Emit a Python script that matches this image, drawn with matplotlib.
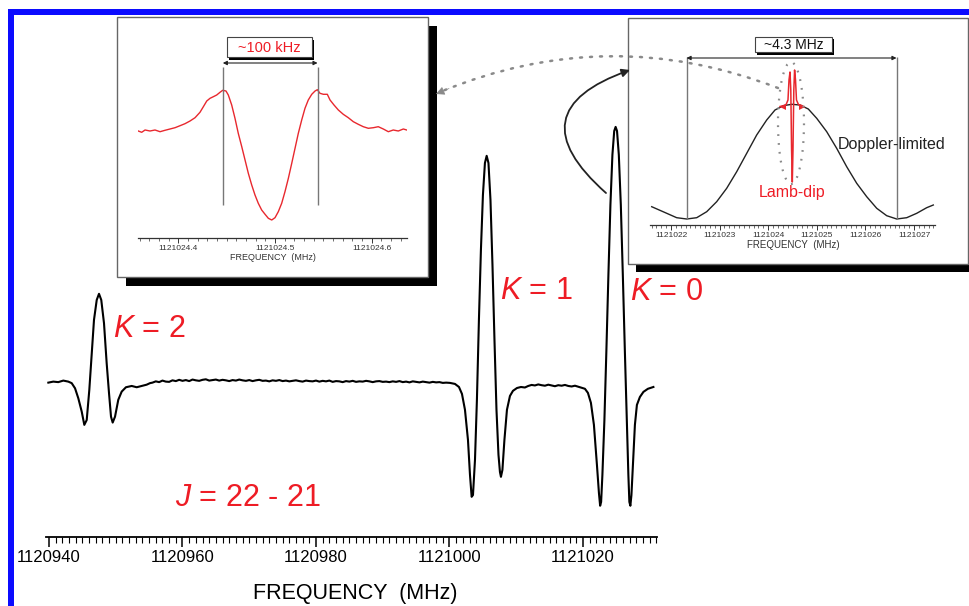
import matplotlib
matplotlib.use("Agg")
import matplotlib.pyplot as plt
import numpy as np
from matplotlib.patches import Rectangle, Ellipse, FancyArrowPatch
from matplotlib.ticker import MultipleLocator

plt.rcParams.update({
    'font.family': ['Liberation Sans', 'DejaVu Sans'],
    'mathtext.fontset': 'custom',
    'mathtext.rm': 'Liberation Sans',
    'mathtext.it': 'Liberation Sans:italic',
})

# ---------------- data: main J = 22 - 21 spectrum (2f lineshape) ----------------
FREQ0 = 1120940.0   # MHz, offsets below are relative to this
k2_off = [-0.10, 0.64, 1.39, 2.14, 2.89, 3.40, 3.90, 4.39, 4.90, 5.29, 5.65, 6.04, 6.40, 6.74, 7.15,
          7.49, 7.83, 8.24, 8.64, 8.99, 9.29, 9.54, 9.89, 10.38, 10.89, 11.53, 12.39, 13.14, 13.89, 14.63, 15.13]
k2_sig = [0.1, 0.5, 0.3, 0.9, 0.5, -0.1, -2.1, -6.0, -11.2, -16.4, -14.5, -2.7, 11.6, 24.6, 32.4,
          34.8, 32.4, 23.3, 7.7, -4.0, -13.2, -15.5, -13.2, -6.6, -3.4, -1.7, -1.2, -1.7, -1.2, -0.7, -0.1]

mid_off = [15.5, 16.0, 16.5, 17.0, 17.5, 18.0, 18.5, 19.0, 19.5, 20.0,
           20.5, 21.0, 21.5, 22.0, 22.5, 23.0, 23.5, 24.0, 24.5, 25.0,
           25.5, 26.0, 26.5, 27.0, 27.5, 28.0, 28.5, 29.0, 29.5, 30.0,
           30.5, 31.0, 31.5, 32.0, 32.5, 33.0, 33.5, 34.0, 34.5, 35.0,
           35.5, 36.0, 36.5, 37.0, 37.5, 38.0, 38.5, 39.0, 39.5, 40.0,
           40.5, 41.0, 41.5, 42.0, 42.5, 43.0, 43.5, 44.0, 44.5, 45.0,
           45.5, 46.0, 46.5, 47.0, 47.5, 48.0, 48.5, 49.0, 49.5, 50.0,
           50.5, 51.0, 51.5, 52.0, 52.5, 53.0, 53.5, 54.0, 54.5, 55.0,
           55.5, 56.0, 56.5, 57.0, 57.5, 58.0, 58.5, 59.0, 59.5]
mid_sig = [0.1, 0.6, 0.3, 0.9, 0.5, 0.4, 1.0, 0.7, 1.2, 0.8,
           1.1, 0.7, 1.3, 1.0, 0.8, 1.2, 1.4, 0.9, 1.1, 1.3,
           0.9, 1.2, 1.0, 0.7, 1.1, 0.9, 1.3, 1.0, 0.8, 1.1,
           0.7, 1.0, 1.2, 0.8, 0.9, 0.6, 1.0, 0.8, 1.1, 0.7,
           0.9, 0.6, 0.8, 1.0, 0.7, 0.5, 0.9, 0.7, 0.6, 0.9,
           0.5, 0.8, 0.6, 0.9, 0.4, 0.7, 0.6, 0.3, 0.7, 0.5,
           0.8, 0.4, 0.6, 0.5, 0.8, 0.6, 0.3, 0.6, 0.7, 0.4,
           0.5, 0.3, 0.6, 0.4, 0.7, 0.3, 0.5, 0.2, 0.6, 0.4,
           0.2, 0.5, 0.3, 0.1, 0.4, 0.2, 0.3, 0.0, 0.1]

k1_off = [60.07, 60.82, 61.42, 61.87, 62.32, 62.77, 63.07, 63.32, 63.52, 63.82, 64.11, 64.41, 64.71, 65.01,
          65.31, 65.57, 65.84, 66.14, 66.44, 66.74, 67.04, 67.34, 67.56, 67.71, 67.93, 68.23, 68.61, 69.06,
          69.51, 70.11, 70.71, 71.30]
k1_sig = [0.0, -0.4, -1.6, -4.3, -10.5, -22.3, -35.9, -44.5, -43.8, -30.1, -6.6, 24.6, 52.0, 73.4,
          85.9, 88.7, 85.9, 71.5, 46.1, 16.8, -10.5, -28.1, -34.8, -36.7, -34.0, -22.3, -10.5, -5.1,
          -3.1, -2.0, -1.6, -1.8]

gap_off = [71.8, 72.3, 72.8, 73.3, 73.8, 74.3, 74.8, 75.3, 75.8, 76.3, 76.8, 77.3, 77.8, 78.3, 78.8, 79.3, 79.8]
gap_sig = [-1.2, -0.8, -1.0, -0.6, -0.9, -1.1, -0.7, -1.0, -1.3, -0.9, -1.1, -0.8, -1.2, -1.4, -1.1, -1.5, -1.9]

k0_off = [80.29, 80.74, 81.19, 81.64, 82.09, 82.39, 82.57, 82.72, 82.91, 83.21, 83.51, 83.81, 84.11,
          84.41, 84.68, 84.89, 85.10, 85.37, 85.67, 85.97, 86.27, 86.57, 86.80, 86.95, 87.10, 87.26,
          87.48, 87.78, 88.08, 88.53, 89.06, 89.73, 90.55]
k0_sig = [-2.3, -3.9, -7.8, -16.4, -32.0, -43.0, -48.0, -46.5, -35.9, -14.5, 12.9, 42.2, 69.5,
          89.1, 98.4, 100.0, 98.4, 89.1, 69.5, 42.2, 12.9, -14.5, -35.9, -46.5, -48.0, -43.8,
          -32.0, -16.4, -8.6, -5.5, -3.5, -2.3, -1.6]

main_tick_freq = [1120940, 1120960, 1120980, 1121000, 1121020]
main_tick_labels = ['1120940', '1120960', '1120980', '1121000', '1121020']
line_labels = ['$K$ = 2', '$K$ = 1', '$K$ = 0']
line_label_freq = [1120949.6, 1121007.6, 1121027.0]
line_label_sig = [18.0, 32.8, 32.4]

# ---------------- data: left inset (Lamb-dip, ~100 kHz) ----------------
LAMB0 = 1121024.0   # MHz, offsets in kHz
lamb_khz = [358.6, 362.1, 365.6, 370.7, 375.9, 381.1, 386.2, 391.4, 396.6, 401.8,
            406.9, 412.1, 417.3, 422.4, 425.9, 429.4, 432.8, 436.2, 439.7, 443.1,
            445.9, 449.3, 451.7, 455.2, 458.6, 462.0, 465.6, 469.0, 472.4, 475.9,
            479.3, 482.7, 486.2, 489.7, 493.1, 496.6, 500.0, 503.4, 506.9, 510.3,
            513.8, 517.3, 520.7, 524.1, 527.6, 531.0, 534.4, 538.0, 541.4, 543.8,
            546.5, 550.0, 554.1, 556.9, 561.0, 565.5, 570.6, 575.8, 581.0, 586.1,
            591.3, 596.5, 601.7, 606.8, 612.0, 617.2, 622.3, 627.5, 632.7, 636.2]
lamb_sig = [0, -1.3, 1, 0, 1, -0.7, 0.7, 2, 3.3, 5.3,
            7.3, 10, 13.3, 18.7, 24.3, 30, 32.7, 34.3, 36, 38.7,
            40.7, 40, 36, 26, 12.7, -2.3, -15.7, -29, -42.3, -54,
            -64, -72.3, -79, -83.3, -87.3, -89, -86.7, -80.7, -72.3, -60.7,
            -47.3, -32.3, -17.3, -2.3, 11, 22.7, 31, 36.7, 40, 41.3,
            37.7, 36.7, 36.7, 31, 26, 21, 16.7, 13.3, 9.3, 6.7,
            4.3, 2.7, 3.3, 4.3, 2, -0.7, 1, 0, 2, 1]
lamb_marker_freq = [1121024.446, 1121024.544]
left_tick_freq = [1121024.4, 1121024.5, 1121024.6]
left_tick_labels = ['1121024.4', '1121024.5', '1121024.6']

# ---------------- data: right inset (Doppler-limited ~4.3 MHz) ----------------
DOP0 = 1121020.0
dop_off = [1.603, 1.912, 2.117, 2.323, 2.529, 2.735, 2.940, 3.146, 3.352, 3.558,
           3.763, 3.969, 4.140, 4.311, 4.484, 4.654, 4.825, 4.998, 5.204, 5.409,
           5.615, 5.821, 6.027, 6.233, 6.438, 6.644, 6.850, 7.056, 7.261, 7.397]
dop_sig = [12.3, 5.7, 1.3, 0, 1.3, 7.3, 17.3, 30.7, 47.3, 65.7,
           84, 99, 109, 113.3, 114.7, 114, 110, 100.7, 87.3, 70.7,
           52.3, 35.7, 22.3, 10.7, 3.3, 0, 1.3, 5.7, 11.3, 14]
dip_off = [4.243, 4.311, 4.366, 4.407, 4.428, 4.449, 4.465, 4.481, 4.496, 4.510,
           4.527, 4.543, 4.562, 4.582, 4.623, 4.689, 4.737]
dip_sig = [112.5, 113.3, 114.2, 119, 139, 147, 129, 69, 37, 69,
           129, 149, 139, 119, 114.4, 113.5, 112]
doppler_marker_freq = [1121022.32, 1121026.64]
right_tick_freq = [1121022, 1121023, 1121024, 1121025, 1121026, 1121027]
right_tick_labels = ['1121022', '1121023', '1121024', '1121025', '1121026', '1121027']

RED = '#ee1c25'
W, H = 970, 606

fig = plt.figure(figsize=(9.7, 6.06), dpi=100)
fig.patch.set_facecolor('white')


def fx(x):
    return x / W


def fy(y):
    return 1 - y / H


def axrect(x0, y0, x1, y1):
    return [fx(x0), fy(y1), (x1 - x0) / W, (y1 - y0) / H]


def frect(x0, y0, x1, y1, **kw):
    r = Rectangle((fx(x0), fy(y1)), (x1 - x0) / W, (y1 - y0) / H,
                  transform=fig.transFigure, **kw)
    fig.add_artist(r)
    return r


# blue frame
frect(8, 9, 972, 15, fc='#0b0bff', ec='none', zorder=20)
frect(8, 9, 14, 610, fc='#0b0bff', ec='none', zorder=20)

# ---------------- main axes ----------------
ax = fig.add_axes(axrect(46, 110, 657, 537))
ax.set_zorder(0)
ax.patch.set_alpha(0)
off_all = k2_off + mid_off + k1_off + gap_off + k0_off
sig_all = k2_sig + mid_sig + k1_sig + gap_sig + k0_sig
ax.plot(FREQ0 + np.array(off_all), sig_all, color='black', lw=1.5, solid_joinstyle='round')
ax.set_xlim(1120939.55, 1121031.09)
ax.set_ylim(-60.2, 106.6)
for s in ['left', 'top', 'right']:
    ax.spines[s].set_visible(False)
ax.spines['bottom'].set_linewidth(1.3)
ax.set_yticks([])
ax.set_xticks(main_tick_freq, labels=main_tick_labels, fontsize=12)
ax.xaxis.set_minor_locator(MultipleLocator(1))
ax.tick_params(axis='x', which='major', length=7, width=1.1, pad=2, colors='black')
ax.tick_params(axis='x', which='minor', length=4.5, width=0.8)
for lab, f, s in zip(line_labels, line_label_freq, line_label_sig):
    ax.text(f, s, lab, color=RED, fontsize=22, va='baseline', ha='left')
ax.text(1120958.9, -48.0, '$J$ = 22 - 21', color=RED, fontsize=22, va='baseline', ha='left')
fig.text(fx(355), fy(593), 'FREQUENCY  (MHz)', fontsize=15.5, ha='center', va='center')


# ---------------- inset boxes ----------------
def inset_box(x0, y0, x1, y1, off):
    frect(x0 + off, y0 + off, x1 + off, y1 + off, fc='black', ec='none', zorder=1.5)
    frect(x0, y0, x1, y1, fc='white', ec='#666666', lw=1.0, zorder=1.6)


inset_box(117, 17, 428, 277, 9)
inset_box(628, 18, 968, 264, 8)


def label_box(x0, y0, x1, y1, text, color, fs, off=2.5):
    frect(x0 + off, y0 + off, x1 + off, y1 + off, fc='black', ec='none', zorder=6)
    frect(x0, y0, x1, y1, fc='white', ec='#444444', lw=0.8, zorder=7)
    fig.text(fx((x0 + x1) / 2), fy((y0 + y1) / 2 + 0.5), text, ha='center', va='center',
             color=color, fontsize=fs, zorder=8)


def style_inset(a):
    a.patch.set_alpha(0)
    for s in ['left', 'top', 'right']:
        a.spines[s].set_visible(False)
    a.spines['bottom'].set_linewidth(0.9)
    a.spines['bottom'].set_color('#333333')
    a.set_yticks([])
    a.tick_params(axis='x', which='major', length=3.5, width=0.7, pad=1.5,
                  labelsize=6, colors='#333333')
    a.tick_params(axis='x', which='minor', length=2.2, width=0.5, colors='#333333')


# left inset
axL = fig.add_axes(axrect(138, 25, 407, 238))
axL.set_zorder(3)
style_inset(axL)
axL.plot(LAMB0 + np.array(lamb_khz) / 1000.0, lamb_sig, color='#e8282e', lw=1.0)
axL.vlines(lamb_marker_freq, -74, 64, color='#777777', lw=1.0)
axL.annotate('', xy=(lamb_marker_freq[0], 68), xytext=(lamb_marker_freq[1], 68),
             arrowprops=dict(arrowstyle='<|-|>', color='#222222', lw=0.8,
                             mutation_scale=6, shrinkA=0, shrinkB=0))
axL.set_xlim(1121024.3583, 1121024.6365)
axL.set_ylim(-107, 106)
axL.set_xticks(left_tick_freq, labels=left_tick_labels)
axL.xaxis.set_minor_locator(MultipleLocator(0.01))
fig.text(fx(273), fy(258), 'FREQUENCY  (MHz)', fontsize=6.5, ha='center', va='center',
         color='#333333', zorder=4)
label_box(227, 37, 312, 57, '~100 kHz', RED, 10.5)

# right inset
axR = fig.add_axes(axrect(650, 30, 935, 225))
axR.set_zorder(3)
style_inset(axR)
axR.plot(DOP0 + np.array(dop_off), dop_sig, color='#222222', lw=1.0)
axR.plot(DOP0 + np.array(dip_off), dip_sig, color='#e8282e', lw=1.1)
axR.plot([DOP0 + dip_off[1]], [dip_sig[1] - 1.5], marker='<', color='#e8282e', ms=4.5, mew=0)
axR.plot([DOP0 + dip_off[15]], [dip_sig[15] - 1.5], marker='>', color='#e8282e', ms=4.5, mew=0)
axR.vlines(doppler_marker_freq, 0, 162, color='#777777', lw=1.0)
axR.annotate('', xy=(doppler_marker_freq[0], 161), xytext=(doppler_marker_freq[1], 161),
             arrowprops=dict(arrowstyle='<|-|>', color='#222222', lw=0.8,
                             mutation_scale=6, shrinkA=0, shrinkB=0))
axR.set_xlim(1121021.568, 1121027.432)
axR.set_ylim(-6, 189)
axR.set_xticks(right_tick_freq, labels=right_tick_labels)
axR.xaxis.set_minor_locator(MultipleLocator(0.1))
axR.text(1121025.436, 70, 'Doppler-limited', fontsize=11.5, color='#222222', va='baseline', ha='left')
axR.text(1121024.49, 22, 'Lamb-dip', fontsize=11.5, color=RED, va='baseline', ha='center')
fig.text(fx(793), fy(245), 'FREQUENCY  (MHz)', fontsize=7, ha='center', va='center',
         color='#333333', zorder=4)
label_box(755, 37, 832, 52, '~4.3 MHz', '#111111', 10)

# dotted ellipse around the Lamb-dip
fig.add_artist(Ellipse((fx(791), fy(123)), 26 / W, 122 / H, transform=fig.transFigure,
                       fill=False, ec='#8a8a8a', lw=1.6, ls=(0, (0.8, 3.2)), zorder=5))

# dotted curved arrow to left inset
fig.add_artist(FancyArrowPatch((fx(778), fy(88)), (fx(440), fy(92)), transform=fig.transFigure,
                               connectionstyle='arc3,rad=0.2', arrowstyle='-', color='#8a8a8a',
                               lw=1.8, ls=(0, (0.8, 3.2)), shrinkA=0, shrinkB=0, zorder=5))
fig.add_artist(FancyArrowPatch((fx(449), fy(88.5)), (fx(436), fy(94)), transform=fig.transFigure,
                               arrowstyle='-|>', color='#8a8a8a', lw=0.5, mutation_scale=13,
                               shrinkA=0, shrinkB=0, zorder=5))

# solid curved arrow from K = 0 line to right inset
fig.add_artist(FancyArrowPatch((fx(606), fy(193)), (fx(630), fy(70)), transform=fig.transFigure,
                               connectionstyle='arc3,rad=-0.85', arrowstyle='-|>', color='#222222',
                               lw=1.3, mutation_scale=12, shrinkA=0, shrinkB=0, zorder=5))

fig.savefig('out.png', dpi=100, facecolor='white')
